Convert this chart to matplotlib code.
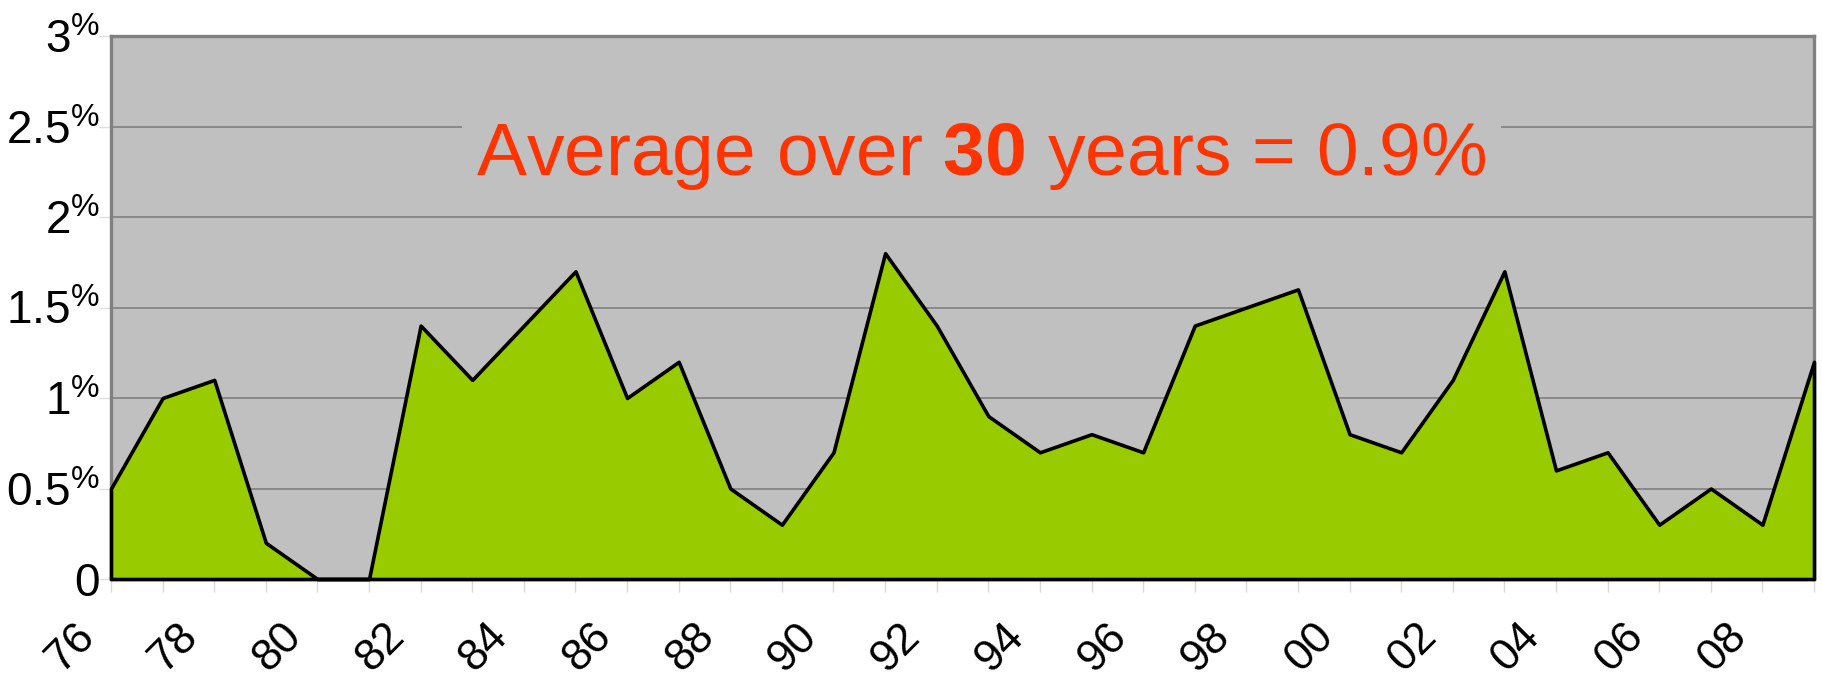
import matplotlib
matplotlib.use("Agg")
import matplotlib.pyplot as plt
import matplotlib.transforms as mtransforms

# yearly values, 1976-2009 (%)
years = list(range(1976, 2010))
values = [0.5, 1.0, 1.1, 0.2, 0.0, 0.0, 1.4, 1.1, 1.4, 1.7,
          1.0, 1.2, 0.5, 0.3, 0.7, 1.8, 1.4, 0.9, 0.7, 0.8,
          0.7, 1.4, 1.5, 1.6, 0.8, 0.7, 1.1, 1.7, 0.6, 0.7,
          0.3, 0.5, 0.3, 1.2]
ytick_vals = [0, 0.5, 1, 1.5, 2, 2.5, 3]
ytick_text = ["0", "0.5", "1", "1.5", "2", "2.5", "3"]
label_years = [y for y in years if y % 2 == 0]

plt.rcParams["font.family"] = ["Liberation Sans", "DejaVu Sans"]
plt.rcParams["mathtext.fontset"] = "custom"
plt.rcParams["mathtext.rm"] = "Liberation Sans"
plt.rcParams["mathtext.it"] = "Liberation Sans"
plt.rcParams["mathtext.bf"] = "Liberation Sans:bold"

fig = plt.figure(figsize=(18.22, 6.85), dpi=100)
ax = fig.add_axes([111 / 1822, 106 / 685, (1814 - 111) / 1822, (579 - 36) / 685])
ax.set_facecolor("#C0C0C0")

ax.fill_between(years, values, 0, facecolor="#99CC00", edgecolor="black",
                linewidth=2.6, zorder=3, clip_on=False)
ax.set_xlim(years[0], years[-1])
ax.set_ylim(0, 3)

ax.set_yticks(ytick_vals)
ax.set_yticklabels([t if t == "0" else t + r"$^{\%}$" for t in ytick_text])
ax.yaxis.grid(True, color="#808080", linewidth=1.2, zorder=1)
ax.set_axisbelow(True)

ax.set_xticks(years)
ax.set_xticklabels([f"{y % 100:02d}" if y in label_years else "" for y in years],
                   rotation=45, ha="center")

ax.tick_params(axis="x", length=9, width=1, color="#D9D9D9", pad=17, labelsize=32)
ax.tick_params(axis="y", length=9, width=1, color="#E0E0E0", pad=-1, labelsize=33)

# shift the rotated year labels to the left of their tick, as in the original
off = mtransforms.ScaledTranslation(-0.40, 0, fig.dpi_scale_trans)
for lab in ax.get_xticklabels():
    lab.set_transform(lab.get_transform() + off)

for s in ax.spines.values():
    s.set_color("#808080")
    s.set_linewidth(2.4)

# annotation: background patch hides the gridline behind it
ax.text(0.511, 0.778, "Average over $\\mathbf{30}$ years = 0.9%", transform=ax.transAxes,
        ha="center", va="center", fontsize=54, color="#FF3300", zorder=5,
        bbox=dict(facecolor="#C0C0C0", edgecolor="none", pad=10))

fig.savefig("out.png", dpi=100)
